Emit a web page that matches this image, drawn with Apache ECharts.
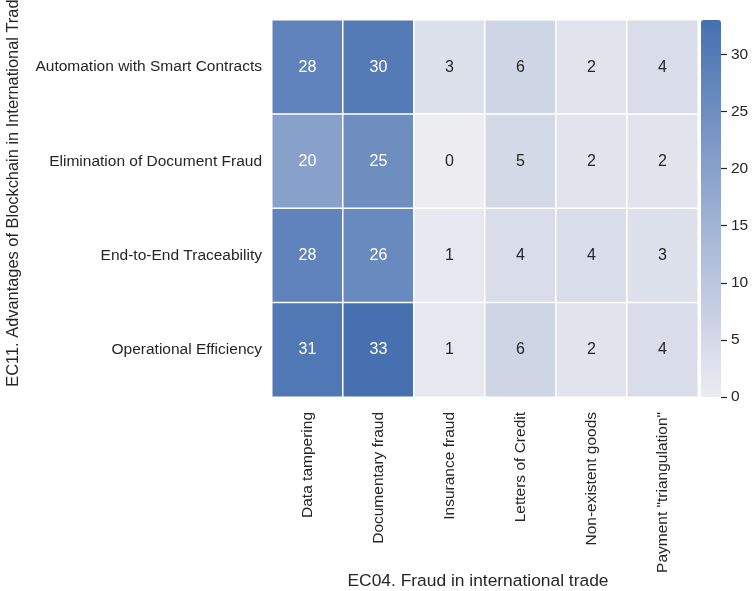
<!DOCTYPE html>
<html>
<head>
<meta charset="utf-8">
<style>
  html, body { margin: 0; padding: 0; background: #fff; }
  #chart { width: 755px; height: 591px; }
</style>
<script src="https://cdn.jsdelivr.net/npm/echarts@6/dist/echarts.min.js"></script>
</head>
<body>
<div id="chart"></div>
<script>
// Fraud types (columns) and blockchain advantages (rows)
const fraudTypes = ['Data tampering', 'Documentary fraud', 'Insurance fraud', 'Letters of Credit', 'Non-existent goods', 'Payment "triangulation"'];
const advantages = ['Automation with Smart Contracts', 'Elimination of Document Fraud', 'End-to-End Traceability', 'Operational Efficiency'];

// Counts per row, one value per fraud type
const automationCounts  = [28, 30, 3, 6, 2, 4];
const eliminationCounts = [20, 25, 0, 5, 2, 2];
const traceabilityCounts = [28, 26, 1, 4, 4, 3];
const efficiencyCounts  = [31, 33, 1, 6, 2, 4];

const colorbarTicks = [0, 5, 10, 15, 20, 25, 30];
const colorMin = 0, colorMax = 33;

const rows = [automationCounts, eliminationCounts, traceabilityCounts, efficiencyCounts];
const cells = [];
rows.forEach((vals, r) => {
  vals.forEach((v, c) => {
    cells.push({
      value: [c, r, v],
      label: { color: v >= 15 ? '#ffffff' : '#262626' }
    });
  });
});

const font = 'Liberation Sans, Arial, sans-serif';
const textSize = 15.5;
const chart = echarts.init(document.getElementById('chart'));
chart.setOption({
  animation: false,
  backgroundColor: '#ffffff',
  grid: [
    { left: 272, top: 20, width: 426, height: 377, outerBoundsMode: 'none', containLabel: false },
    { left: 701, top: 20, width: 20, height: 377, outerBoundsMode: 'none', containLabel: false }
  ],
  xAxis: [
    {
      type: 'category', gridIndex: 0, data: fraudTypes,
      name: 'EC04. Fraud in international trade', nameLocation: 'middle', nameGap: 176,
      nameMoveOverlap: false,
      nameTextStyle: { fontFamily: font, fontSize: 17.4, color: '#262626', padding: [0, 14, 0, 0] },
      axisLine: { show: false }, axisTick: { show: false }, splitLine: { show: false },
      axisLabel: { rotate: 90, margin: 15, fontFamily: font, fontSize: textSize, color: '#262626', interval: 0 }
    },
    { type: 'value', gridIndex: 1, show: false, min: 0, max: 1 }
  ],
  yAxis: [
    {
      type: 'category', gridIndex: 0, data: advantages, inverse: true,
      name: 'EC11. Advantages of Blockchain in International Trade', nameLocation: 'middle', nameGap: 251,
      nameMoveOverlap: false,
      nameTextStyle: { fontFamily: font, fontSize: 16.4, color: '#262626', padding: [0, 0, 0, 40] },
      axisLine: { show: false }, axisTick: { show: false }, splitLine: { show: false },
      axisLabel: { margin: 10, fontFamily: font, fontSize: textSize, color: '#262626' }
    },
    {
      // colorbar scale next to the visualMap bar
      type: 'value', gridIndex: 1, position: 'right', min: colorMin, max: colorMax, interval: 5,
      z: 10,
      axisLine: { show: true, onZero: false, lineStyle: { color: 'rgba(0,0,0,0)' } }, splitLine: { show: false },
      axisTick: { show: true, inside: false, length: 6, lineStyle: { color: '#262626', width: 1.2 },
        customValues: colorbarTicks },
      axisLabel: { margin: 10, fontFamily: font, fontSize: textSize, color: '#262626', customValues: colorbarTicks }
    }
  ],
  visualMap: {
    type: 'continuous', seriesIndex: 0, min: colorMin, max: colorMax,
    calculable: false, realtime: false, text: null, showLabel: false,
    orient: 'vertical', left: 701, top: 20, padding: 0, borderRadius: 0,
    itemWidth: 20, itemHeight: 377,
    inRange: { color: ['#ececf1', '#4670b0'] }
  },
  series: [
    {
      type: 'heatmap', xAxisIndex: 0, yAxisIndex: 0, data: cells,
      label: { show: true, fontFamily: font, fontSize: 16,
        formatter: p => String(p.value[2]) },
      itemStyle: { borderColor: '#ffffff', borderWidth: 1.5 },
      emphasis: { disabled: true }
    }
  ]
});
</script>
</body>
</html>
